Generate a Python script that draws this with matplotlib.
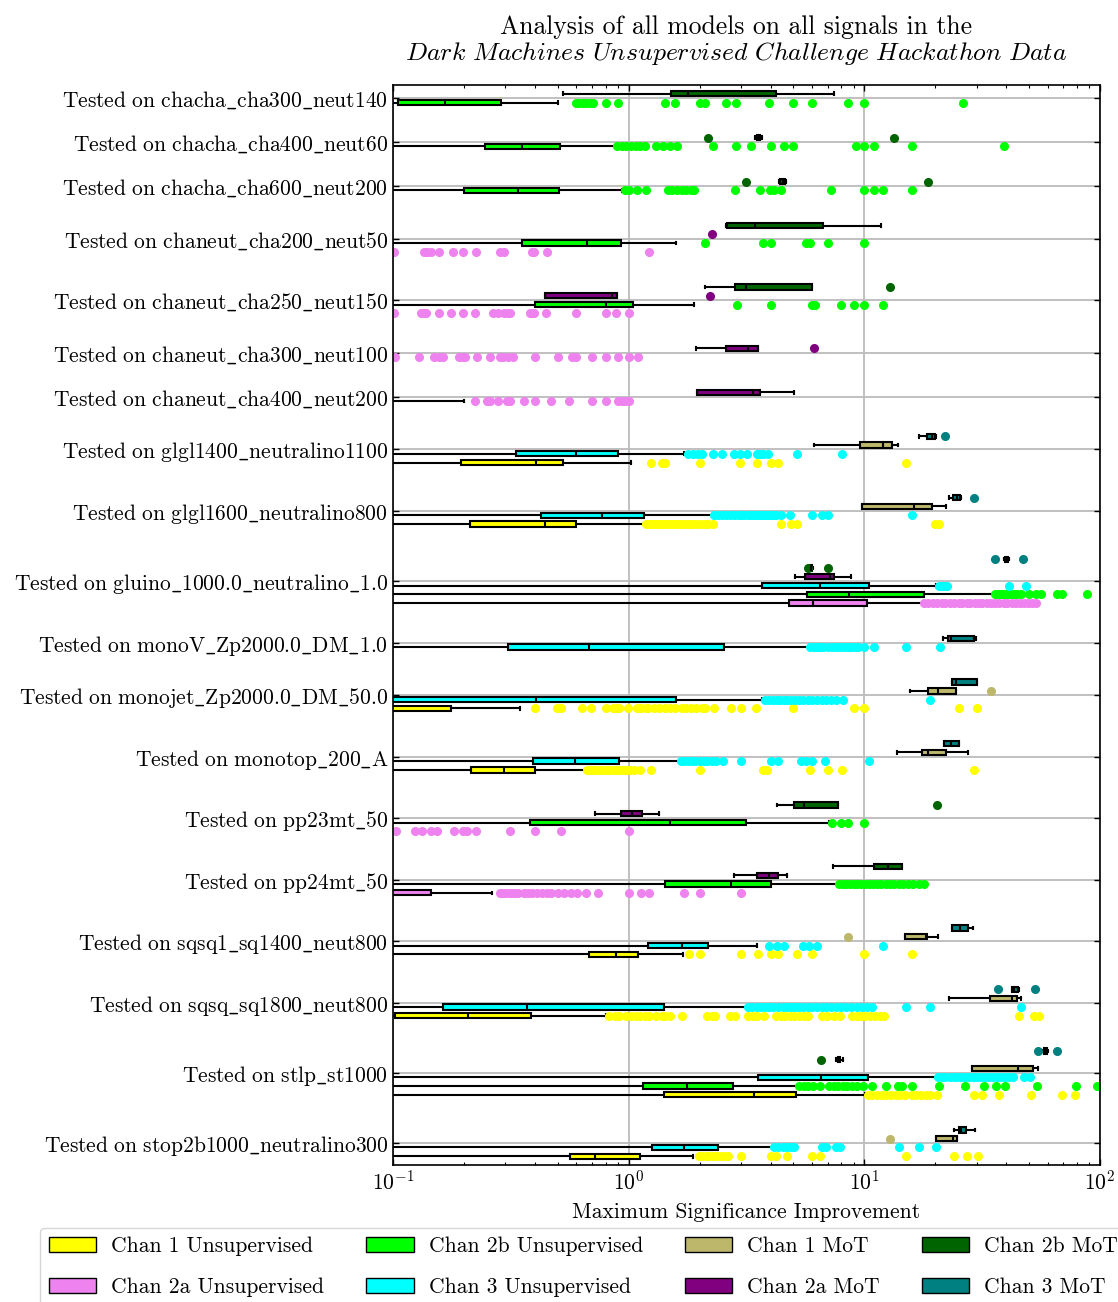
import matplotlib
matplotlib.use("Agg")
import matplotlib.pyplot as plt
from matplotlib.patches import Patch
import numpy as np

plt.rcParams['font.family'] = ['cmr10', 'DejaVu Serif']
plt.rcParams['mathtext.fontset'] = 'cm'
plt.rcParams['axes.formatter.use_mathtext'] = True
plt.rcParams['font.size'] = 15.5

ZERO = 1e-3  # stands in for 0 on the log axis

signals = [
    "chacha_cha300_neut140", "chacha_cha400_neut60", "chacha_cha600_neut200",
    "chaneut_cha200_neut50", "chaneut_cha250_neut150", "chaneut_cha300_neut100",
    "chaneut_cha400_neut200", "glgl1400_neutralino1100", "glgl1600_neutralino800",
    "gluino_1000.0_neutralino_1.0", "monoV_Zp2000.0_DM_1.0", "monojet_Zp2000.0_DM_50.0",
    "monotop_200_A", "pp23mt_50", "pp24mt_50", "sqsq1_sq1400_neut800",
    "sqsq_sq1800_neut800", "stlp_st1000", "stop2b1000_neutralino300",
]

# box stats per channel: (whislo, q1, median, q3, whishi)
chan1_unsup = {
    "glgl1400_neutralino1100": (ZERO, 0.195, 0.403, 0.528, 1.02),
    "glgl1600_neutralino800": (ZERO, 0.213, 0.441, 0.599, 1.16),
    "monojet_Zp2000.0_DM_50.0": (ZERO, ZERO, ZERO, 0.176, 0.346),
    "monotop_200_A": (ZERO, 0.214, 0.296, 0.4, 0.667),
    "sqsq1_sq1400_neut800": (ZERO, 0.679, 0.886, 1.1, 1.7),
    "sqsq_sq1800_neut800": (ZERO, 0.102, 0.209, 0.385, 0.798),
    "stlp_st1000": (ZERO, 1.41, 3.4, 5.12, 10.1),
    "stop2b1000_neutralino300": (ZERO, 0.565, 0.717, 1.12, 1.88),
}
chan1_unsup_fliers = {
    "glgl1400_neutralino1100": [1.24, 1.39, 1.43, 2.01, 2.98, 3.49, 4.0, 4.31, 15.0],
    "glgl1600_neutralino800": [1.19, 1.22, 1.25, 1.28, 1.31, 1.34, 1.37, 1.40, 1.44, 1.48,
                               1.52, 1.56, 1.60, 1.65, 1.70, 1.76, 1.82, 1.88, 1.95, 2.02,
                               2.1, 2.18, 2.28, 4.45, 4.89, 5.19, 19.9, 20.8],
    "monojet_Zp2000.0_DM_50.0": [0.4, 0.498, 0.514, 0.632, 0.692, 0.798, 0.855, 0.882, 0.914,
                                 0.991, 1.09, 1.13, 1.18, 1.21, 1.28, 1.34, 1.42, 1.5, 1.58,
                                 1.68, 1.75, 1.84, 1.94, 2.05, 2.11, 2.31, 2.73, 3.01, 3.46,
                                 4.96, 9.06, 10.0, 25.1, 30.1],
    "monotop_200_A": [0.667, 0.685, 0.704, 0.723, 0.747, 0.77, 0.798, 0.828, 0.855, 0.882,
                      0.914, 0.947, 0.978, 1.01, 1.05, 1.12, 1.24, 2.0, 3.72, 3.85, 5.86,
                      7.01, 8.02, 29.2],
    "sqsq1_sq1400_neut800": [1.8, 2.0, 3.01, 3.55, 4.0, 4.31, 5.19, 5.99, 10.0, 16.0],
    "sqsq_sq1800_neut800": [0.828, 0.874, 0.914, 0.978, 1.02, 1.07, 1.12, 1.17, 1.22, 1.3,
                            1.39, 1.43, 1.5, 1.69, 2.15, 2.25, 2.33, 2.69, 2.84, 3.22, 3.37,
                            3.52, 3.77, 4.22, 4.41, 4.61, 4.83, 5.05, 5.28, 5.52, 5.78, 6.61,
                            6.92, 7.4, 7.91, 8.86, 9.27, 9.69, 10.1, 10.6, 11.1, 11.6, 12.1,
                            45.3, 52.3, 55.2],
    "stlp_st1000": [10.4, 10.8, 11.3, 11.9, 12.4, 13.0, 13.6, 14.2, 14.9, 15.9, 16.6, 17.4,
                    18.2, 19.0, 20.3, 29.2, 31.6, 37.3, 51.2, 69.2, 78.5],
    "stop2b1000_neutralino300": [1.98, 2.05, 2.13, 2.2, 2.27, 2.35, 2.44, 2.53, 2.63, 3.01,
                                 4.0, 4.22, 4.72, 5.99, 6.46, 15.0, 24.0, 27.3, 30.3],
}

chan2a_unsup = {
    "chaneut_cha200_neut50": (ZERO, ZERO, ZERO, ZERO, ZERO),
    "chaneut_cha250_neut150": (ZERO, ZERO, ZERO, ZERO, ZERO),
    "chaneut_cha300_neut100": (ZERO, ZERO, ZERO, ZERO, ZERO),
    "chaneut_cha400_neut200": (ZERO, ZERO, ZERO, ZERO, 0.2),
    "gluino_1000.0_neutralino_1.0": (ZERO, 4.78, 6.04, 10.3, 18.0),
    "pp23mt_50": (ZERO, ZERO, ZERO, ZERO, ZERO),
    "pp24mt_50": (ZERO, ZERO, ZERO, 0.145, 0.264),
}
chan2a_unsup_fliers = {
    "chaneut_cha200_neut50": [0.101, 0.135, 0.14, 0.145, 0.157, 0.179, 0.198, 0.225, 0.284,
                              0.297, 0.389, 0.398, 0.451, 1.22],
    "chaneut_cha250_neut150": [0.101, 0.131, 0.135, 0.138, 0.157, 0.177, 0.198, 0.222, 0.265,
                               0.278, 0.297, 0.308, 0.313, 0.38, 0.389, 0.398, 0.445, 0.599,
                               0.798, 0.886, 1.0],
    "chaneut_cha300_neut100": [0.102, 0.129, 0.15, 0.157, 0.163, 0.191, 0.198, 0.203, 0.227,
                               0.257, 0.284, 0.294, 0.308, 0.322, 0.4, 0.5, 0.573, 0.596,
                               0.698, 0.798, 0.902, 1.0, 1.1],
    "chaneut_cha400_neut200": [0.222, 0.25, 0.257, 0.278, 0.304, 0.313, 0.36, 0.4, 0.47,
                               0.557, 0.698, 0.798, 0.902, 0.935, 0.965, 1.0],
    "gluino_1000.0_neutralino_1.0": [18.0, 18.7, 19.6, 20.3, 21.4, 22.1, 23.2, 24.0, 25.1,
                                     26.0, 27.2, 28.1, 29.5, 30.6, 31.7, 33.2, 34.4, 36.0,
                                     37.3, 39.0, 40.4, 42.3, 43.8, 45.8, 47.5, 49.6, 51.4, 53.5],
    "pp23mt_50": [0.103, 0.124, 0.133, 0.145, 0.153, 0.181, 0.198, 0.207, 0.225, 0.315, 0.4,
                  0.516, 1.0],
    "pp24mt_50": [0.284, 0.29, 0.3, 0.31, 0.32, 0.33, 0.34, 0.36, 0.375, 0.39, 0.41, 0.43,
                  0.45, 0.47, 0.5, 0.53, 0.57, 0.604, 0.66, 0.74, 1.0, 1.13, 1.22, 1.72,
                  2.0, 3.01],
}

chan2b_unsup = {
    "chacha_cha300_neut140": (ZERO, 0.105, 0.166, 0.286, 0.5),
    "chacha_cha400_neut60": (ZERO, 0.246, 0.354, 0.509, 0.873),
    "chacha_cha600_neut200": (ZERO, 0.2, 0.34, 0.505, 0.935),
    "chaneut_cha200_neut50": (ZERO, 0.354, 0.667, 0.927, 1.59),
    "chaneut_cha250_neut150": (ZERO, 0.4, 0.8, 1.04, 1.9),
    "gluino_1000.0_neutralino_1.0": (ZERO, 5.7, 8.58, 17.9, 35.9),
    "pp23mt_50": (ZERO, 0.382, 1.5, 3.15, 7.07),
    "pp24mt_50": (ZERO, 1.43, 2.71, 4.0, 7.74),
    "stlp_st1000": (ZERO, 1.15, 1.77, 2.77, 5.16),
}
chan2b_unsup_fliers = {
    "chacha_cha300_neut140": [0.596, 0.615, 0.638, 0.661, 0.685, 0.704, 0.798, 0.898, 1.42,
                              1.57, 2.0, 2.11, 2.6, 2.86, 3.93, 5.0, 6.0, 8.5, 10.0, 26.1],
    "chacha_cha400_neut60": [0.893, 0.935, 0.978, 1.02, 1.07, 1.12, 1.17, 1.3, 1.4, 1.5, 1.6,
                             2.28, 2.85, 3.31, 4.0, 4.57, 5.0, 9.2, 10.0, 11.0, 16.0, 39.0],
    "chacha_cha600_neut200": [0.965, 1.0, 1.09, 1.18, 1.47, 1.53, 1.6, 1.68, 1.75, 1.84, 1.9,
                              2.83, 3.6, 3.96, 4.12, 4.43, 7.2, 10.0, 11.0, 12.0, 16.0],
    "chaneut_cha200_neut50": [2.11, 3.73, 4.0, 5.65, 5.9, 6.98, 10.0],
    "chaneut_cha250_neut150": [2.88, 4.0, 5.99, 6.17, 8.0, 9.06, 10.0, 12.0],
    "gluino_1000.0_neutralino_1.0": [35.9, 36.8, 37.6, 38.5, 39.4, 40.3, 41.2, 42.3, 43.5,
                                     44.6, 46.0, 50.0, 53.5, 56.0, 65.5, 69.2, 88.5],
    "pp23mt_50": [7.3, 7.98, 8.54, 10.0],
    "pp24mt_50": [7.8, 8.1, 8.4, 8.7, 9.0, 9.3, 9.7, 10.1, 10.5, 10.9, 11.3, 11.8, 12.3,
                  12.8, 13.4, 14.0, 14.6, 15.3, 16.1, 17.0, 18.0],
    "stlp_st1000": [5.28, 5.52, 5.78, 6.04, 6.46, 7.07, 7.4, 7.74, 8.1, 8.47, 8.86, 9.27,
                    9.91, 10.8, 12.3, 13.9, 14.5, 16.0, 20.8, 26.7, 32.2, 36.2, 39.6, 54.2,
                    79.1, 96.9],
}

chan3_unsup = {
    "glgl1400_neutralino1100": (ZERO, 0.334, 0.599, 0.902, 1.72),
    "glgl1600_neutralino800": (ZERO, 0.425, 0.77, 1.16, 2.25),
    "gluino_1000.0_neutralino_1.0": (ZERO, 3.69, 6.5, 10.5, 20.1),
    "monoV_Zp2000.0_DM_1.0": (ZERO, 0.309, 0.682, 2.54, 5.78),
    "monojet_Zp2000.0_DM_50.0": (ZERO, 0.09, 0.403, 1.59, 3.69),
    "monotop_200_A": (ZERO, 0.394, 0.591, 0.914, 1.64),
    "sqsq1_sq1400_neut800": (ZERO, 1.21, 1.69, 2.18, 3.51),
    "sqsq_sq1800_neut800": (ZERO, 0.163, 0.372, 1.41, 3.16),
    "stlp_st1000": (ZERO, 3.54, 6.52, 10.4, 20.1),
    "stop2b1000_neutralino300": (ZERO, 1.26, 1.72, 2.39, 4.07),
}
chan3_unsup_fliers = {
    "glgl1400_neutralino1100": [1.79, 1.88, 1.96, 2.04, 2.27, 2.5, 2.79, 2.97, 3.19, 3.49,
                                3.6, 3.72, 3.89, 5.19, 8.02],
    "glgl1600_neutralino800": [2.3, 2.4, 2.5, 2.6, 2.7, 2.8, 2.9, 3.0, 3.1, 3.2, 3.3, 3.4,
                               3.5, 3.6, 3.7, 3.8, 3.9, 4.0, 4.1, 4.2, 4.41, 4.83, 5.99,
                               6.61, 7.01, 16.0],
    "gluino_1000.0_neutralino_1.0": [20.8, 21.3, 21.8, 22.5, 41.2, 48.3],
    "monoV_Zp2000.0_DM_1.0": [5.9, 6.1, 6.3, 6.5, 6.7, 7.0, 7.3, 7.6, 7.9, 8.2, 8.5, 8.8,
                              9.1, 9.4, 10.0, 11.0, 15.0, 21.0],
    "monojet_Zp2000.0_DM_50.0": [3.8, 3.95, 4.1, 4.25, 4.4, 4.55, 4.7, 4.9, 5.1, 5.3, 5.5,
                                 5.75, 6.0, 6.3, 6.6, 6.9, 7.23, 7.56, 8.1, 19.0],
    "monotop_200_A": [1.66, 1.72, 1.78, 1.85, 1.92, 2.0, 2.08, 2.16, 2.25, 2.35, 2.52, 3.01,
                      4.0, 4.31, 5.4, 5.65, 5.99, 6.82, 10.5],
    "sqsq1_sq1400_neut800": [3.94, 4.27, 4.54, 5.5, 5.85, 6.32, 12.0],
    "sqsq_sq1800_neut800": [3.2, 3.35, 3.5, 3.65, 3.8, 3.95, 4.1, 4.3, 4.5, 4.7, 4.9, 5.1,
                            5.3, 5.5, 5.75, 6.0, 6.3, 6.6, 6.9, 7.2, 7.6, 8.0, 8.4, 8.8, 9.3,
                            9.8, 10.3, 10.8, 15.0, 19.0, 46.4],
    "stlp_st1000": [20.5, 21.3, 22.1, 23.0, 23.9, 24.8, 25.8, 26.8, 27.9, 29.0, 30.1, 31.3,
                    32.5, 33.8, 35.1, 36.5, 38.0, 39.5, 41.0, 42.8, 47.8, 50.5],
    "stop2b1000_neutralino300": [4.12, 4.3, 4.5, 4.7, 4.9, 5.05, 6.61, 6.9, 7.56, 7.9, 14.0,
                                 17.0, 20.1],
}

chan1_mot = {
    "glgl1400_neutralino1100": (6.12, 9.56, 12.0, 13.1, 13.9),
    "glgl1600_neutralino800": (9.78, 9.78, 16.3, 19.3, 22.3),
    "monojet_Zp2000.0_DM_50.0": (15.7, 18.6, 20.5, 24.4, 24.4),
    "monotop_200_A": (13.8, 17.5, 18.6, 22.3, 27.6),
    "sqsq1_sq1400_neut800": (14.9, 14.9, 18.2, 18.5, 20.6),
    "sqsq_sq1800_neut800": (22.8, 34.1, 42.2, 44.3, 46.1),
    "stlp_st1000": (28.5, 28.5, 44.9, 51.9, 54.7),
    "stop2b1000_neutralino300": (20.1, 20.1, 23.8, 24.7, 24.7),
}
chan1_mot_fliers = {
    "monojet_Zp2000.0_DM_50.0": [34.6],
    "sqsq1_sq1400_neut800": [8.54],
    "stop2b1000_neutralino300": [12.8],
}

chan2a_mot = {
    "chaneut_cha200_neut50": (ZERO, ZERO, ZERO, ZERO, ZERO),
    "chaneut_cha250_neut150": (0.441, 0.441, 0.85, 0.893, 0.893),
    "chaneut_cha300_neut100": (1.93, 2.58, 3.22, 3.55, 3.55),
    "chaneut_cha400_neut200": (1.95, 1.95, 3.37, 3.62, 5.03),
    "gluino_1000.0_neutralino_1.0": (5.07, 5.6, 7.14, 7.47, 8.74),
    "pp23mt_50": (0.72, 0.927, 1.03, 1.14, 1.34),
    "pp24mt_50": (2.81, 3.49, 3.94, 4.31, 4.7),
}
chan2a_mot_fliers = {
    "chaneut_cha200_neut50": [2.26],
    "chaneut_cha250_neut150": [2.22],
    "chaneut_cha300_neut100": [6.12],
}

chan2b_mot = {
    "chacha_cha300_neut140": (0.526, 1.51, 1.78, 4.22, 7.4),
    "chacha_cha400_neut60": (3.45, 3.5, 3.55, 3.62, 3.68),
    "chacha_cha600_neut200": (4.36, 4.4, 4.5, 4.6, 4.66),
    "chaneut_cha200_neut50": (2.6, 2.61, 3.44, 6.67, 11.8),
    "chaneut_cha250_neut150": (2.11, 2.84, 3.15, 5.99, 5.99),
    "gluino_1000.0_neutralino_1.0": (5.86, 5.9, 5.96, 6.0, 6.04),
    "pp23mt_50": (4.24, 5.03, 5.55, 7.74, 7.74),
    "pp24mt_50": (7.33, 11.0, 12.6, 14.4, 14.4),
    "stlp_st1000": (7.6, 7.7, 7.74, 7.9, 8.1),
}
chan2b_mot_fliers = {
    "chacha_cha400_neut60": [2.17, 13.4],
    "chacha_cha600_neut200": [3.15, 18.6],
    "chaneut_cha250_neut150": [12.8],
    "gluino_1000.0_neutralino_1.0": [5.75, 6.98],
    "pp23mt_50": [20.3],
    "stlp_st1000": [6.58],
}

chan3_mot = {
    "glgl1400_neutralino1100": (17.0, 18.4, 19.3, 19.9, 20.2),
    "glgl1600_neutralino800": (22.8, 23.8, 24.8, 25.5, 25.7),
    "gluino_1000.0_neutralino_1.0": (39.0, 39.4, 40.0, 40.6, 41.0),
    "monoV_Zp2000.0_DM_1.0": (21.6, 22.6, 23.3, 29.2, 29.8),
    "monojet_Zp2000.0_DM_50.0": (23.5, 23.5, 24.4, 30.1, 30.1),
    "monotop_200_A": (21.8, 21.8, 23.3, 25.1, 25.1),
    "sqsq1_sq1400_neut800": (23.5, 23.5, 25.5, 27.6, 28.9),
    "sqsq_sq1800_neut800": (42.2, 42.5, 43.3, 44.7, 45.2),
    "stlp_st1000": (57.5, 58.0, 58.6, 59.3, 60.0),
    "stop2b1000_neutralino300": (24.0, 25.1, 25.8, 27.0, 29.6),
}
chan3_mot_fliers = {
    "glgl1400_neutralino1100": [22.1],
    "glgl1600_neutralino800": [29.3],
    "gluino_1000.0_neutralino_1.0": [36.0, 47.2],
    "sqsq_sq1800_neut800": [36.8, 53.1],
    "stlp_st1000": [54.7, 65.8],
}

# legend order
channels = [
    ("Chan 1 Unsupervised", "yellow", chan1_unsup, chan1_unsup_fliers),
    ("Chan 2a Unsupervised", "violet", chan2a_unsup, chan2a_unsup_fliers),
    ("Chan 2b Unsupervised", "lime", chan2b_unsup, chan2b_unsup_fliers),
    ("Chan 3 Unsupervised", "cyan", chan3_unsup, chan3_unsup_fliers),
    ("Chan 1 MoT", "darkkhaki", chan1_mot, chan1_mot_fliers),
    ("Chan 2a MoT", "purple", chan2a_mot, chan2a_mot_fliers),
    ("Chan 2b MoT", "darkgreen", chan2b_mot, chan2b_mot_fliers),
    ("Chan 3 MoT", "teal", chan3_mot, chan3_mot_fliers),
]
# stacking order inside a group, top to bottom
stack_order = [7, 6, 5, 4, 3, 2, 1, 0]

fig = plt.figure(figsize=(11.18, 13.02), dpi=100)
ax = fig.add_axes([0.3515, 0.1052, 0.6324, 0.8295])

positions = {i: [] for i in range(len(channels))}
stats = {i: [] for i in range(len(channels))}
ticks = []
cursor = 0
for sig in signals:
    present = [c for c in stack_order if sig in channels[c][2]]
    for j, c in enumerate(present):
        lo, q1, med, q3, hi = channels[c][2][sig]
        stats[c].append(dict(whislo=lo, q1=q1, med=med, q3=q3, whishi=hi,
                             fliers=channels[c][3].get(sig, [])))
        positions[c].append(cursor + j)
    ticks.append(cursor + (len(present) - 1) / 2)
    cursor += len(present) + 3

for c, (label, color, _, _) in enumerate(channels):
    ax.bxp(stats[c], positions=positions[c], widths=0.6, orientation='horizontal',
           patch_artist=True, manage_ticks=False,
           boxprops=dict(facecolor=color, edgecolor='black', linewidth=1.5),
           medianprops=dict(color='black', linewidth=1.5),
           whiskerprops=dict(color='black', linewidth=1.5),
           capprops=dict(color='black', linewidth=1.5),
           flierprops=dict(marker='o', markerfacecolor=color, markeredgecolor=color,
                           markersize=5.5, linestyle='none'))


def tex_label(name):
    # cmr10 has no underscore glyph, so set the label through mathtext
    return r"$\mathrm{Tested\ on\ " + name.replace("_", r"\_") + "}$"


ax.set_xscale('log')
ax.set_xlim(0.1, 100)
ax.set_ylim(cursor - 3, -1)
ax.set_yticks(ticks)
ax.set_yticklabels([tex_label(s) for s in signals], fontsize=15.5)
ax.grid(True, which='major', color='#bbbbbb', linewidth=1.3)
ax.set_axisbelow(True)
ax.tick_params(which='both', direction='in', top=True, right=True, labelsize=15.5)
ax.tick_params(which='major', length=4.5, width=1.0)
ax.tick_params(which='minor', length=2.5, width=0.8)
ax.tick_params(axis='y', which='minor', left=False, right=False)
for sp in ax.spines.values():
    sp.set_linewidth(1.2)

ax.set_xlabel("Maximum Significance Improvement", fontsize=15.5, labelpad=6)
ax.set_title("Analysis of all models on all signals in the\n"
             r"$\mathit{Dark\ Machines\ Unsupervised\ Challenge\ Hackathon\ Data}$",
             fontsize=18.5, x=0.485, pad=18, linespacing=1.05)

handles = [Patch(facecolor=col, edgecolor='black', label=lab) for lab, col, _, _ in channels]
fig.legend(handles=handles, ncol=4, loc='upper left', bbox_to_anchor=(0.036, 0.057),
           fontsize=15.5, handlelength=2.2, handleheight=0.75, handletextpad=0.7,
           columnspacing=1.95, labelspacing=1.0, borderaxespad=0)

fig.savefig("out.png", dpi=100)
